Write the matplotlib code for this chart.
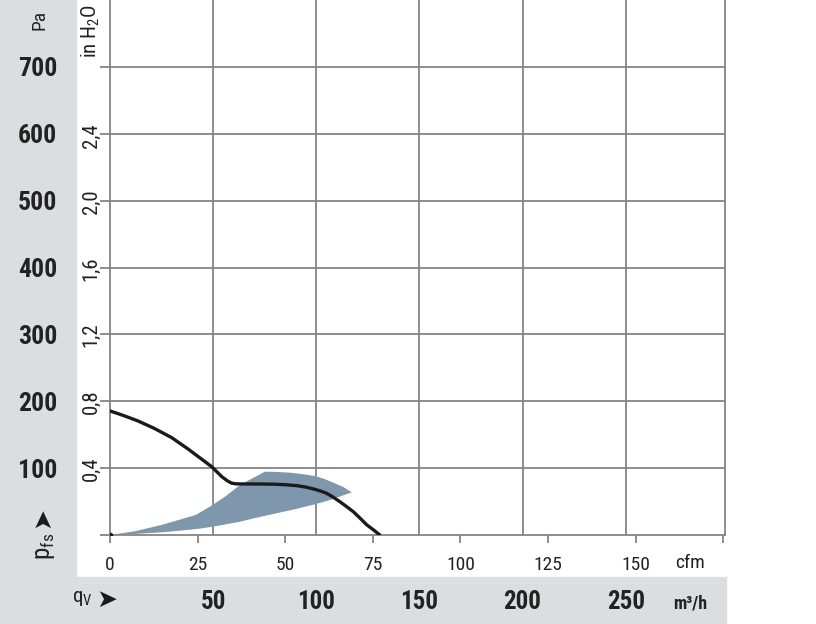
import matplotlib
matplotlib.use("Agg")
import matplotlib.pyplot as plt
from matplotlib.patches import Rectangle

W, H = 816, 624
GREY = "#dcdde0"
GRID = "#858585"
BLUE = "#7f97ad"
NARROW = ["Roboto Condensed", "DejaVu Sans"]

plt.rcParams["mathtext.fontset"] = "custom"
plt.rcParams["mathtext.rm"] = "Roboto Condensed"
plt.rcParams["mathtext.it"] = "Roboto Condensed"

# fan curve, flow in cfm, pressure in Pa
curve_cfm = [0, 2, 4.3, 8.1, 12.8, 17.6, 22.3, 27.1, 29, 31.9, 33.5, 34.7, 36, 38.5, 42, 46.6, 50,
             53.3, 56, 58.5, 60.2, 61.8, 63.7, 65.6, 67.5, 69.4, 71.3, 73.2, 75.1, 77]
curve_pa = [185.5, 182, 177.8, 170.3, 159, 145.6, 128.5, 109.7, 102.2, 87.2, 81, 77.5, 76.5, 76.3,
            76.3, 76, 75.2, 73.8, 71.5, 68.3, 65.5, 62.4, 56.5, 49.8, 42.5, 35, 25.5, 15.5, 8, 0]

# operating range (shaded area), outline in cfm / Pa
area_cfm = [0, 7, 14.7, 24.5, 29, 33, 37.1, 44.2, 47.5, 51.4, 55, 58.5, 61.2, 63.7, 66.5, 69,
            62.8, 58.5, 52.5, 46.6, 41.5, 37.1, 30.5, 25.7, 20, 14.7, 7]
area_pa = [0, 5.5, 15, 30, 44, 58, 74.8, 94.7, 94.3, 93.2, 91, 88.2, 83.8, 78.3, 72, 63.8,
           52.3, 45.9, 38.2, 31.4, 25.5, 19.9, 13.5, 9.5, 6.5, 4, 1.5]

cfm_ticks = [0, 25, 50, 75, 100, 125, 150, 175]
cfm_labels = ["0", "25", "50", "75", "100", "125", "150", ""]
m3h_ticks = [50, 100, 150, 200, 250]
pa_ticks = [0, 100, 200, 300, 400, 500, 600, 700]
pa_labels = ["", "100", "200", "300", "400", "500", "600", "700"]
inh2o_ticks = [0.4, 0.8, 1.2, 1.6, 2.0, 2.4]
inh2o_labels = ["0,4", "0,8", "1,2", "1,6", "2,0", "2,4"]

CFM_TO_M3H = 1.699
INH2O_TO_PA = 249.09


def px(x, y):
    return x / W, 1 - y / H


fig = plt.figure(figsize=(W / 100, H / 100), dpi=100)
fig.patches.append(Rectangle(px(0, 624), 76 / W, 1, transform=fig.transFigure, color=GREY, zorder=0))
fig.patches.append(Rectangle(px(0, 624), 726 / W, 47 / H, transform=fig.transFigure, color=GREY, zorder=0))

l, b = px(110, 535)
ax = fig.add_axes([l, b, 615 / W, 535 / H])
ax.set_zorder(2)
ax.set_facecolor("none")
ax.set_xlim(0, 175.5)
ax.set_ylim(0, 800)

for s in ["left", "right", "bottom"]:
    ax.spines[s].set_color(GRID)
    ax.spines[s].set_linewidth(1.3)
ax.spines["top"].set_visible(False)

ax.set_xticks(cfm_ticks)
ax.set_xticklabels(cfm_labels, family=NARROW, fontsize=14, color="#222222")
ax.set_yticks(pa_ticks)
ax.set_yticklabels(pa_labels, family=NARROW, fontsize=18.5, fontweight="bold", color="#222222")
ax.tick_params(axis="x", direction="out", length=6, width=1.3, color=GRID, pad=9)
ax.tick_params(axis="y", direction="out", length=7, width=1.3, color=GRID, pad=31)

for v in pa_ticks[1:]:
    ax.axhline(v, color=GRID, lw=1.3, zorder=1)
for v in m3h_ticks:
    ax.axvline(v / CFM_TO_M3H, color=GRID, lw=1.3, zorder=1)

ax.fill(area_cfm, area_pa, color=BLUE, lw=0, zorder=2)
ax.plot(curve_cfm, curve_pa, color="#1a1a1a", lw=2.4, zorder=3,
        solid_capstyle="round", solid_joinstyle="round")
ax.plot([0], [0], "o", color="#1a1a1a", ms=3, zorder=4)

ytr = ax.get_yaxis_transform()
for v, s in zip(inh2o_ticks, inh2o_labels):
    ax.text(-19 / 615, v * INH2O_TO_PA, s, transform=ytr, rotation=90, ha="center", va="center",
            family=NARROW, fontsize=15, color="#222222")

xtr = ax.get_xaxis_transform()
for v in m3h_ticks:
    ax.text(v / CFM_TO_M3H, -67 / 535, str(v), transform=xtr, ha="center", va="center",
            family=NARROW, fontsize=18, fontweight="bold", color="#222222", clip_on=False)

fig.text(*px(690, 563), "cfm", ha="center", va="center", family=NARROW, fontsize=14, color="#222222")
fig.text(*px(690, 603), "m³/h", ha="center", va="center", family=NARROW, fontsize=13,
         fontweight="bold", color="#222222")
fig.text(*px(91, 31), "in H$_2$O", rotation=90, ha="center", va="center", family=NARROW,
         fontsize=15, color="#222222")
fig.text(*px(40, 20), "Pa", rotation=90, ha="center", va="center", family=NARROW, fontsize=14,
         color="#222222")
fig.text(*px(45, 546), "p$_{\\mathrm{fs}}$", rotation=90, ha="center", va="center", family=NARROW,
         fontsize=18, color="#222222")
fig.text(*px(42, 517), "➤", rotation=90, ha="center", va="center", family="DejaVu Sans",
         fontsize=18, color="#1a1a1a")
fig.text(*px(82, 599), "q$_\\mathrm{V}$", ha="center", va="center", family=NARROW, fontsize=15,
         color="#222222")
fig.text(*px(107, 600), "➤", ha="center", va="center", family="DejaVu Sans", fontsize=18,
         color="#1a1a1a")

fig.savefig("out.png", dpi=100)
